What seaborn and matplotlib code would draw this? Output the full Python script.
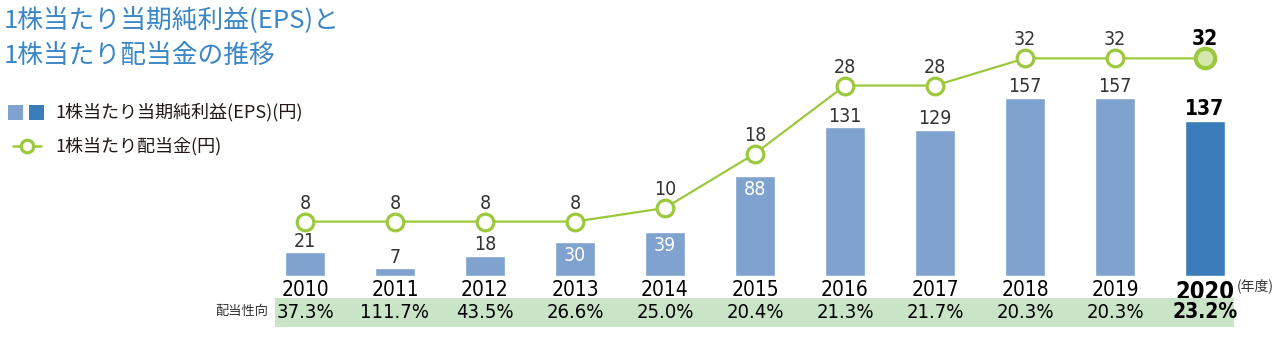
import matplotlib
matplotlib.use("Agg")
import matplotlib.pyplot as plt
import seaborn as sns
import numpy as np
from matplotlib.patches import Rectangle
from matplotlib.lines import Line2D

sns.set_style("white")
plt.rcParams['font.family'] = ['Noto Sans CJK JP', 'DejaVu Sans']

# ---- data ----
years = ['2010', '2011', '2012', '2013', '2014', '2015', '2016', '2017', '2018', '2019', '2020']
eps = [21, 7, 18, 30, 39, 88, 131, 129, 157, 157, 137]
dps = [8, 8, 8, 8, 10, 18, 28, 28, 32, 32, 32]
payout = ['37.3%', '111.7%', '43.5%', '26.6%', '25.0%', '20.4%', '21.3%', '21.7%', '20.3%', '20.3%', '23.2%']
title_lines = ['1株当たり当期純利益(EPS)と', '1株当たり配当金の推移']
legend_eps = '1株当たり当期純利益(EPS)(円)'
legend_dps = '1株当たり配当金(円)'
row_label = '配当性向'
unit_label = '(年度)'

# ---- styles ----
inside_labels = {'2013', '2014', '2015'}
c_bar = '#7fa2cf'
c_bar_last = '#3a7dba'
c_line = '#9cc83c'
c_last_marker = '#d3e8ad'
c_title = '#3a86c6'
c_band = '#c9e4c6'
c_text = '#231815'
num_font = ['DejaVu Sans']
num_stretch = 'condensed'

W, H = 1280, 337
fig = plt.figure(figsize=(W / 100, H / 100), dpi=100)

def fx(px):
    return px / W

def fy(px):
    return 1 - px / H

ax = fig.add_axes([fx(260), fy(276), fx(990), 236 / H])
palette = [c_bar] * (len(years) - 1) + [c_bar_last]
sns.barplot(x=years, y=eps, hue=years, palette=palette, legend=False,
            width=0.45, ax=ax, saturation=1)
ax.set_xlim(-0.5, 10.5)
ax.set_ylim(0, 208)
for s in ax.spines.values():
    s.set_visible(False)
ax.set_yticks([])
ax.tick_params(axis='x', length=0, pad=3)
ax.set_xticks(range(len(years)))
ax.set_xticklabels(years)
for i, lab in enumerate(ax.get_xticklabels()):
    lab.set_family(num_font)
    lab.set_stretch(num_stretch)
    lab.set_color('black')
    if i == len(years) - 1:
        lab.set_fontsize(17)
        lab.set_fontweight('bold')
    else:
        lab.set_fontsize(15)

# bar labels
for p, yr, v in zip(ax.patches, years, eps):
    xc = p.get_x() + p.get_width() / 2
    top = p.get_height()
    last = yr == years[-1]
    if yr in inside_labels:
        ax.annotate(str(v), (xc, top), xytext=(0, -3), textcoords='offset points',
                    ha='center', va='top', color='white', fontsize=14, family=num_font,
                    fontstretch=num_stretch)
    else:
        ax.annotate(str(v), (xc, top), xytext=(0, 1), textcoords='offset points',
                    ha='center', va='bottom', color='black' if last else '#333333',
                    fontsize=15 if last else 14, family=num_font, fontstretch=num_stretch,
                    fontweight='bold' if last else 'normal')

# line on twin axis
ax2 = ax.twinx()
sns.pointplot(x=years, y=dps, order=years, color=c_line, markers='o',
              markersize=12, markerfacecolor='white', markeredgewidth=2.3,
              linewidth=1.6, ax=ax2)
sns.pointplot(x=years[-1:], y=dps[-1:], order=years, color=c_line, markers='o',
              markersize=14, markerfacecolor=c_last_marker, markeredgewidth=3,
              linestyle='none', ax=ax2)
ax2.set_xlim(-0.5, 10.5)
ax2.set_ylim(0, 34.7)
ax2.set_yticks([])
ax2.set_ylabel('')
for s in ax2.spines.values():
    s.set_visible(False)
for i, (yr, v) in enumerate(zip(years, dps)):
    last = yr == years[-1]
    ax2.annotate(str(v), (i, v), xytext=(0, 6.5), textcoords='offset points',
                 ha='center', va='bottom', fontsize=15 if last else 14,
                 fontweight='bold' if last else 'normal', family=num_font,
                 fontstretch=num_stretch,
                 color='black' if last else '#333333')

# payout ratio band
axb = fig.add_axes([fx(260), fy(327), fx(990), 29 / H])
axb.set_xlim(-0.5, 10.5)
axb.set_ylim(0, 1)
axb.axis('off')
axb.axvspan(-0.33, 10.32, color=c_band, lw=0)
for i, t in enumerate(payout):
    last = i == len(payout) - 1
    axb.text(i, 0.5, t, ha='center', va='center', fontsize=15 if last else 14.5,
             fontweight='bold' if last else 'normal', family=num_font,
             fontstretch=num_stretch, color='black')

fig.text(fx(242), fy(311), row_label, ha='center', va='center', fontsize=9.5, color='#333333')
fig.text(fx(1255), fy(286), unit_label, ha='center', va='center', fontsize=10, color='#333333')

# title
fig.text(fx(4), fy(20), title_lines[0], ha='left', va='center', fontsize=18.5, color=c_title,
         fontweight='normal')
fig.text(fx(4), fy(56), title_lines[1], ha='left', va='center', fontsize=18.5, color=c_title,
         fontweight='normal')

# legend (manual)
fig.patches.append(Rectangle((fx(8), fy(120)), fx(15), 15 / H, transform=fig.transFigure,
                             color=c_bar, lw=0))
fig.patches.append(Rectangle((fx(29), fy(120)), fx(15), 15 / H, transform=fig.transFigure,
                             color=c_bar_last, lw=0))
fig.text(fx(55), fy(112), legend_eps, ha='left', va='center', fontsize=13, color=c_text)
fig.lines.append(Line2D([fx(13), fx(41)], [fy(146), fy(146)], transform=fig.transFigure,
                        color=c_line, lw=1.8))
fig.lines.append(Line2D([fx(27)], [fy(146)], transform=fig.transFigure, color=c_line,
                        marker='o', markersize=9, markerfacecolor='white', markeredgewidth=2.3,
                        linestyle='none'))
fig.text(fx(55), fy(146), legend_dps, ha='left', va='center', fontsize=13, color=c_text)

fig.savefig('out.png', dpi=100)
